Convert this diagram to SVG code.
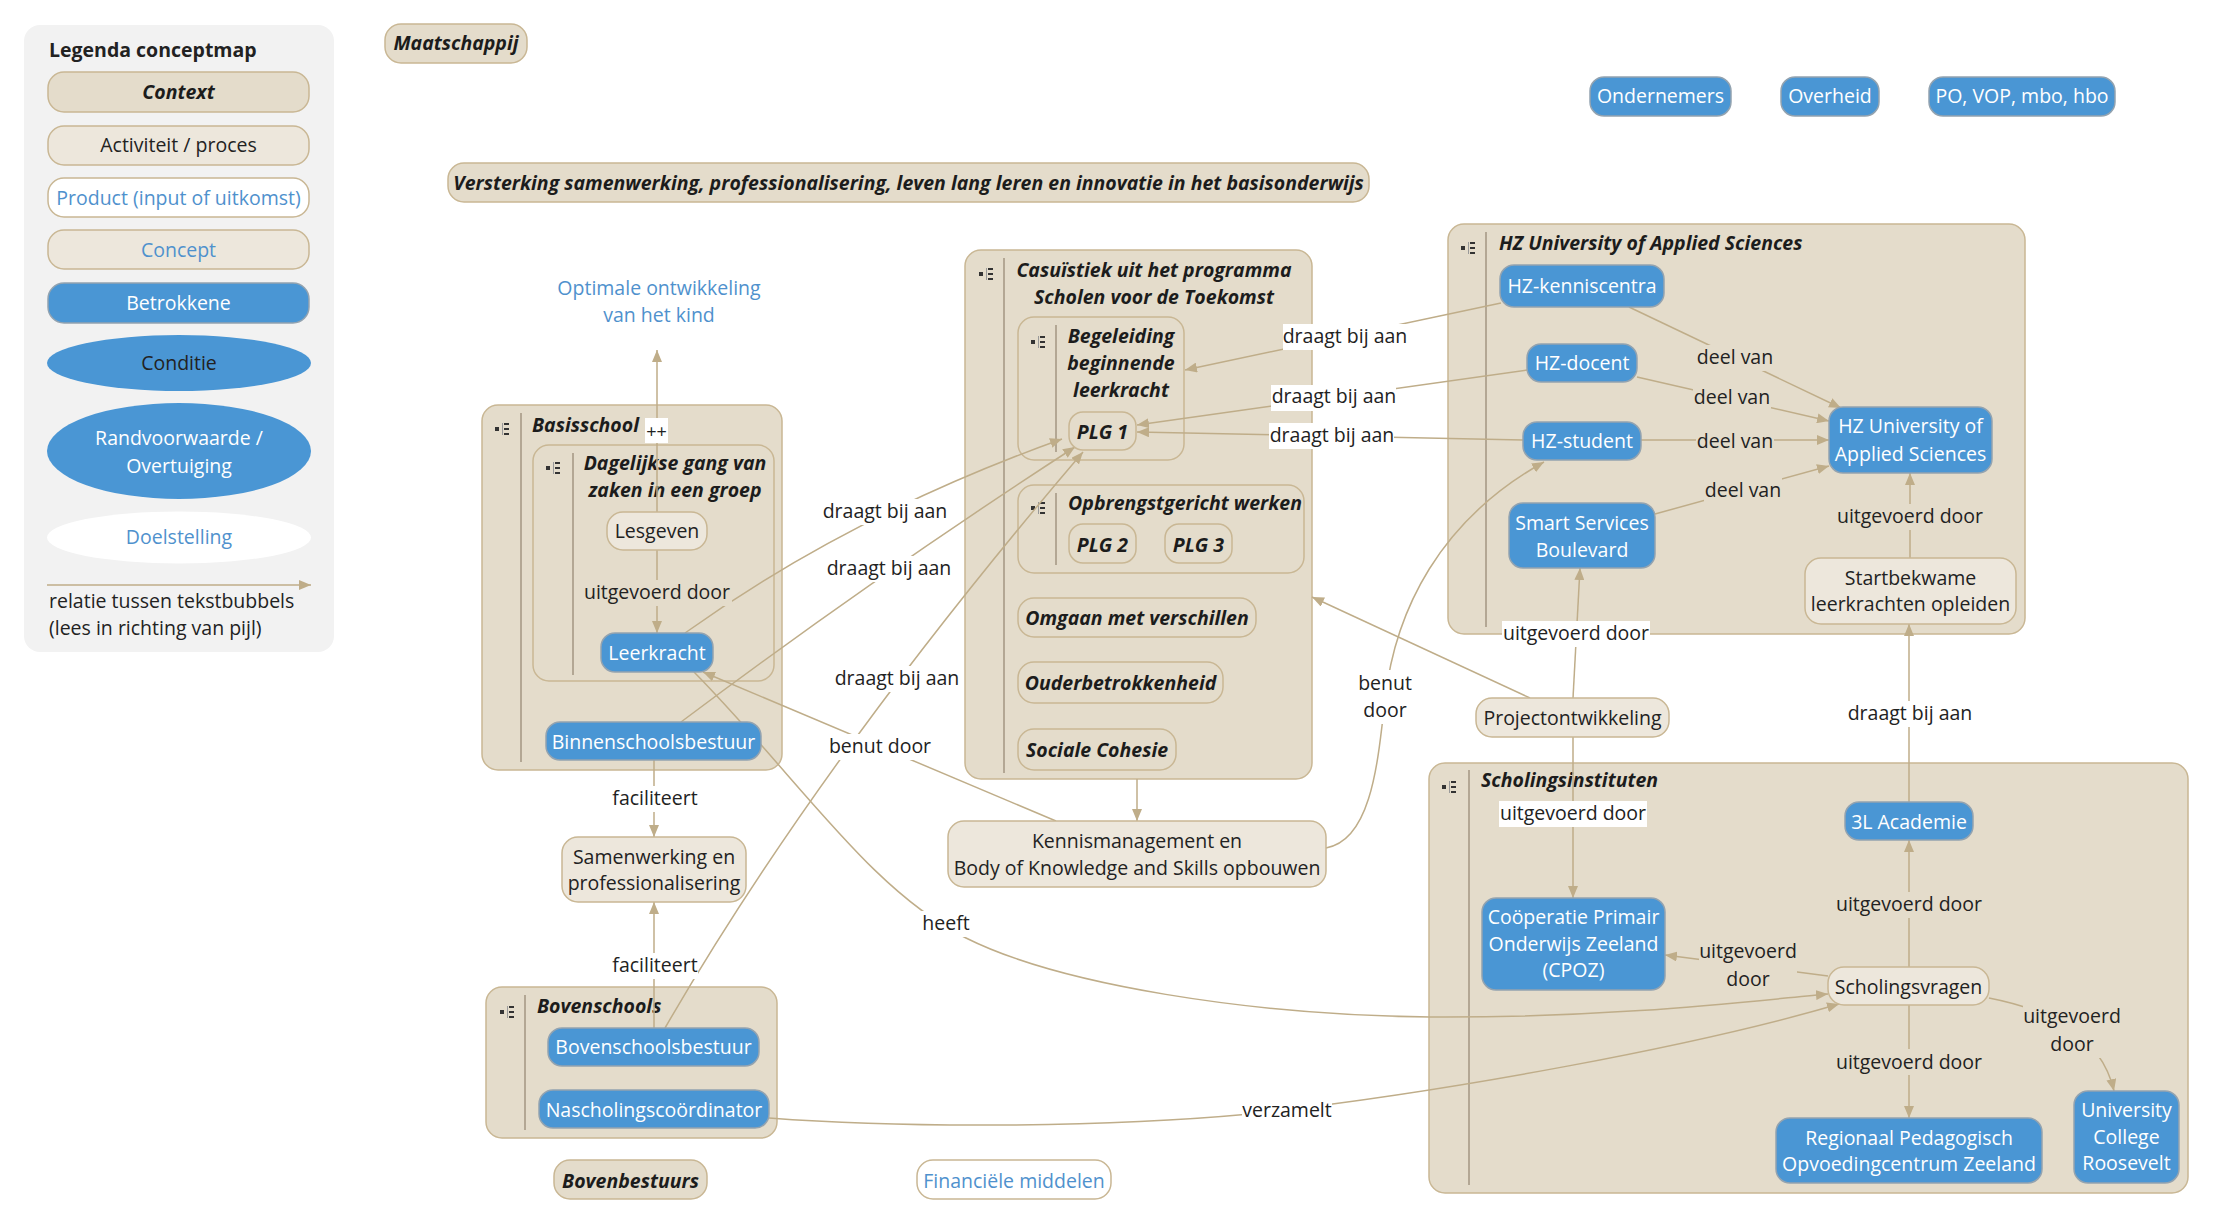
<svg xmlns="http://www.w3.org/2000/svg" width="2213" height="1225" viewBox="0 0 2213 1225">
<style>
text{font-family:"Open Sans","Liberation Sans",sans-serif;font-size:19.5px;fill:#222;text-anchor:middle}
.st{text-anchor:start}
.bi{font-weight:bold;font-style:italic;fill:#1c1c1c}
.tw{fill:#fff}
.tb{fill:#4f91cd}
.ctx{fill:#e4dccb;stroke:#c9b794;stroke-width:1.5}
.act{fill:#ede7dc;stroke:#c9b794;stroke-width:1.5}
.prod{fill:#fff;stroke:#c9b794;stroke-width:1.5}
.blue{fill:#4a96d4;stroke:#93a3b0;stroke-width:1.5}
.div{stroke:#a39682;stroke-width:1.5}
.edge{fill:none;stroke:#bfad89;stroke-width:1.5}
.arr{marker-end:url(#ah)}
.lw{fill:#fff}
.lb{fill:#e4dccb}
.ic{fill:#333}
</style>
<defs>
<marker id="ah" viewBox="0 0 12 10" refX="12" refY="5" markerWidth="12" markerHeight="10" markerUnits="userSpaceOnUse" orient="auto"><path d="M0,0 L12,5 L0,10 z" fill="#bfad89"/></marker>
<g id="icon"><rect x="0" y="-2" width="4" height="4" class="ic"/><rect x="7" y="-6" width="1" height="12" fill="#999"/><rect x="9" y="-6" width="5" height="2" class="ic"/><rect x="9" y="-1" width="5" height="2" class="ic"/><rect x="9" y="4" width="5" height="2" class="ic"/></g>
</defs>

<g id="legend">
<rect x="24" y="25" width="310" height="627" rx="16" fill="#f2f2f2"/>
<text x="49" y="57" class="st" style="font-weight:bold">Legenda conceptmap</text>
<rect x="48" y="72" width="261" height="40" rx="16" class="ctx"/><text x="178.5" y="99" class="bi">Context</text>
<rect x="48" y="126" width="261" height="39" rx="16" class="act"/><text x="178.5" y="152">Activiteit / proces</text>
<rect x="48" y="178" width="261" height="39" rx="16" class="prod"/><text x="178.5" y="205" class="tb">Product (input of uitkomst)</text>
<rect x="48" y="230" width="261" height="39" rx="16" class="act"/><text x="178.5" y="257" class="tb">Concept</text>
<rect x="48" y="283" width="261" height="40" rx="16" class="blue"/><text x="178.5" y="310" class="tw">Betrokkene</text>
<ellipse cx="179" cy="363" rx="132" ry="28" fill="#4a96d4"/><text x="179" y="370">Conditie</text>
<ellipse cx="179" cy="451" rx="132" ry="48" fill="#4a96d4"/><text x="179" y="445" class="tw">Randvoorwaarde /</text><text x="179" y="472.5" class="tw">Overtuiging</text>
<ellipse cx="179" cy="537.5" rx="132" ry="26" fill="#fff"/><text x="179" y="543.5" class="tb">Doelstelling</text>
<line x1="47" y1="585" x2="311" y2="585" class="edge arr"/>
<text x="49" y="608" class="st">relatie tussen tekstbubbels</text>
<text x="49" y="635" class="st">(lees in richting van pijl)</text>
</g>

<g id="containers">
<g id="n-basisschool"><rect x="482" y="405" width="300" height="365" rx="16" class="ctx"/><use href="#icon" x="495" y="429"/><line x1="521" y1="413" x2="521" y2="762" class="div"/><text x="532" y="432" class="st bi">Basisschool</text></g>
<g id="n-dagelijkse"><rect x="533" y="445" width="241" height="236" rx="16" class="ctx"/><use href="#icon" x="546" y="468"/><line x1="573" y1="453" x2="573" y2="675" class="div"/><text x="675" y="470" class="bi">Dagelijkse gang van</text><text x="675" y="497" class="bi">zaken in een groep</text></g>
<g id="n-bovenschools"><rect x="486" y="987" width="291" height="151" rx="16" class="ctx"/><use href="#icon" x="500" y="1012"/><line x1="525" y1="995" x2="525" y2="1130" class="div"/><text x="537" y="1013" class="st bi">Bovenschools</text></g>
<g id="n-casuistiek"><rect x="965" y="250" width="347" height="529" rx="16" class="ctx"/><use href="#icon" x="979" y="274"/><line x1="1004" y1="258" x2="1004" y2="773" class="div"/><text x="1154" y="277" class="bi">Casuïstiek uit het programma</text><text x="1154" y="303.5" class="bi">Scholen voor de Toekomst</text></g>
<g id="n-begeleiding"><rect x="1018" y="317" width="166" height="143" rx="16" class="ctx"/><use href="#icon" x="1031" y="342"/><line x1="1056" y1="325" x2="1056" y2="452" class="div"/><text x="1121" y="343" class="bi">Begeleiding</text><text x="1121" y="370" class="bi">beginnende</text><text x="1121" y="397" class="bi">leerkracht</text></g>
<g id="n-opbrengst"><rect x="1018" y="485" width="286" height="88" rx="16" class="ctx"/><use href="#icon" x="1031" y="508"/><line x1="1056" y1="493" x2="1056" y2="565" class="div"/><text x="1185" y="510" class="bi">Opbrengstgericht werken</text></g>
<g id="n-hz"><rect x="1448" y="224" width="577" height="410" rx="16" class="ctx"/><use href="#icon" x="1461" y="248"/><line x1="1486" y1="232" x2="1486" y2="627" class="div"/><text x="1499" y="250" class="st bi">HZ University of Applied Sciences</text></g>
<g id="n-scholingsinstituten"><rect x="1429" y="763" width="759" height="430" rx="16" class="ctx"/><use href="#icon" x="1442" y="787"/><line x1="1469" y1="770" x2="1469" y2="1185" class="div"/><text x="1481" y="787" class="st bi">Scholingsinstituten</text></g>
</g>

<g id="connectors">
<path d="M657,512 V350" class="edge arr"/>
<path d="M657,550 V633" class="edge arr"/>
<path d="M685,633 Q850,515 1062,439" class="edge arr"/>
<path d="M681,722 Q870,580 1075,447" class="edge arr"/>
<path d="M665,1028 Q820,760 1083,452" class="edge arr"/>
<path d="M1056,821 L703,672" class="edge arr"/>
<path d="M694,672 C800,780 870,890 966,938 C1060,985 1250,1015 1430,1017 C1620,1018 1760,1000 1828,994" class="edge arr"/>
<path d="M654,760 V837" class="edge arr"/>
<path d="M654,1028 V902" class="edge arr"/>
<path d="M769,1118 C900,1128 1100,1128 1250,1114 C1450,1092 1700,1045 1839,1004" class="edge arr"/>
<path d="M1137,779 V821" class="edge arr"/>
<path d="M1326,848 C1372,840 1378,760 1385,700 C1395,610 1440,520 1544,462" class="edge arr"/>
<path d="M1530,698 L1312,597" class="edge arr"/>
<path d="M1573,698 L1580,568" class="edge arr"/>
<path d="M1573,737 V898" class="edge arr"/>
<path d="M1501,303 L1185,370" class="edge arr"/>
<path d="M1527,370 L1137,425" class="edge arr"/>
<path d="M1523,440 L1137,432" class="edge arr"/>
<path d="M1629,307 L1841,408" class="edge arr"/>
<path d="M1637,377 L1829,421" class="edge arr"/>
<path d="M1641,440 L1829,440" class="edge arr"/>
<path d="M1655,514 L1829,466" class="edge arr"/>
<path d="M1910,558 V473" class="edge arr"/>
<path d="M1909,802 V624" class="edge arr"/>
<path d="M1909,967 V840" class="edge arr"/>
<path d="M1909,1005 V1118" class="edge arr"/>
<path d="M1828,976 L1665,955" class="edge arr"/>
<path d="M1989,998 C2040,1008 2100,1030 2114,1091" class="edge arr"/>
<g id="labels">
<rect x="645" y="418" width="23" height="25" class="lw"/><text x="656.5" y="438" style="font-size:18px">++</text>
<rect x="582" y="580" width="150" height="26" class="lb"/><text x="657" y="599">uitgevoerd door</text>
<rect x="822" y="499" width="126" height="26" class="lw"/><text x="885" y="518">draagt bij aan</text>
<rect x="826" y="556" width="126" height="26" class="lw"/><text x="889" y="575">draagt bij aan</text>
<rect x="834" y="666" width="126" height="26" class="lw"/><text x="897" y="685">draagt bij aan</text>
<rect x="830" y="734" width="100" height="26" class="lw"/><text x="880" y="753">benut door</text>
<rect x="921" y="911" width="50" height="26" class="lw"/><text x="946" y="930">heeft</text>
<rect x="612" y="786" width="86" height="26" class="lw"/><text x="655" y="805">faciliteert</text>
<rect x="612" y="953" width="86" height="26" class="lw"/><text x="655" y="972">faciliteert</text>
<rect x="1242" y="1098" width="90" height="26" class="lw"/><text x="1287" y="1117">verzamelt</text>
<rect x="1357" y="670" width="56" height="54" class="lw"/><text x="1385" y="690">benut</text><text x="1385" y="717">door</text>
<rect x="1502" y="621" width="148" height="26" class="lw"/><text x="1576" y="640">uitgevoerd door</text>
<rect x="1499" y="801" width="148" height="26" class="lw"/><text x="1573" y="820">uitgevoerd door</text>
<rect x="1283" y="324" width="125" height="26" class="lw"/><text x="1345" y="343">draagt bij aan</text>
<rect x="1271" y="385" width="125" height="26" class="lw"/><text x="1334" y="403">draagt bij aan</text>
<rect x="1269" y="423" width="125" height="26" class="lw"/><text x="1332" y="442">draagt bij aan</text>
<rect x="1696" y="345" width="78" height="26" class="lb"/><text x="1735" y="364">deel van</text>
<rect x="1693" y="385" width="78" height="26" class="lb"/><text x="1732" y="404">deel van</text>
<rect x="1696" y="429" width="78" height="26" class="lb"/><text x="1735" y="448">deel van</text>
<rect x="1704" y="478" width="78" height="26" class="lb"/><text x="1743" y="497">deel van</text>
<rect x="1836" y="504" width="148" height="26" class="lb"/><text x="1910" y="523">uitgevoerd door</text>
<rect x="1846" y="701" width="128" height="26" class="lw"/><text x="1910" y="720">draagt bij aan</text>
<rect x="1835" y="892" width="148" height="26" class="lb"/><text x="1909" y="911">uitgevoerd door</text>
<rect x="1835" y="1049" width="148" height="26" class="lb"/><text x="1909" y="1068.5">uitgevoerd door</text>
<rect x="1699" y="939" width="98" height="54" class="lb"/><text x="1748" y="958">uitgevoerd</text><text x="1748" y="986">door</text>
<rect x="2023" y="1004" width="99" height="54" class="lb"/><text x="2072" y="1023">uitgevoerd</text><text x="2072" y="1051">door</text>
</g>
</g>

<g id="nodes">
<g id="n-maatschappij"><rect x="385" y="24" width="142" height="39" rx="16" class="ctx"/><text x="456" y="50" class="bi">Maatschappij</text></g>
<g id="n-versterking"><rect x="448" y="163" width="921" height="39" rx="16" class="ctx"/><text x="908.5" y="190" class="bi">Versterking samenwerking, professionalisering, leven lang leren en innovatie in het basisonderwijs</text></g>
<g id="n-optimale"><text x="659" y="295" class="tb">Optimale ontwikkeling</text><text x="659" y="321.5" class="tb">van het kind</text></g>
<g id="n-ondernemers"><rect x="1590" y="77" width="141" height="39" rx="14" class="blue"/><text x="1660.5" y="103" class="tw">Ondernemers</text></g>
<g id="n-overheid"><rect x="1781" y="77" width="98" height="39" rx="14" class="blue"/><text x="1830" y="103" class="tw">Overheid</text></g>
<g id="n-po"><rect x="1929" y="77" width="186" height="39" rx="14" class="blue"/><text x="2022" y="103" class="tw">PO, VOP, mbo, hbo</text></g>
<g id="n-kenniscentra"><rect x="1500" y="265" width="164" height="42" rx="14" class="blue"/><text x="1582" y="293" class="tw">HZ-kenniscentra</text></g>
<g id="n-docent"><rect x="1527" y="344" width="110" height="38" rx="14" class="blue"/><text x="1582" y="370" class="tw">HZ-docent</text></g>
<g id="n-student"><rect x="1523" y="422" width="118" height="38" rx="14" class="blue"/><text x="1582" y="448" class="tw">HZ-student</text></g>
<g id="n-smart"><rect x="1509" y="503" width="146" height="65" rx="14" class="blue"/><text x="1582" y="530" class="tw">Smart Services</text><text x="1582" y="557" class="tw">Boulevard</text></g>
<g id="n-hzuniv"><rect x="1829" y="407" width="163" height="66" rx="14" class="blue"/><text x="1910.5" y="433" class="tw">HZ University of</text><text x="1910.5" y="461" class="tw">Applied Sciences</text></g>
<g id="n-startbekwame"><rect x="1805" y="558" width="211" height="66" rx="16" class="act"/><text x="1910.5" y="584.5">Startbekwame</text><text x="1910.5" y="611">leerkrachten opleiden</text></g>
<g id="n-plg1"><rect x="1069" y="412" width="67" height="38" rx="14" class="ctx"/><text x="1102.5" y="438.5" class="bi">PLG 1</text></g>
<g id="n-plg2"><rect x="1069" y="524" width="67" height="39" rx="14" class="ctx"/><text x="1102.5" y="552" class="bi">PLG 2</text></g>
<g id="n-plg3"><rect x="1165" y="524" width="67" height="39" rx="14" class="ctx"/><text x="1198.5" y="552" class="bi">PLG 3</text></g>
<g id="n-omgaan"><rect x="1018" y="598" width="238" height="39" rx="16" class="ctx"/><text x="1137" y="625" class="bi">Omgaan met verschillen</text></g>
<g id="n-ouder"><rect x="1018" y="662" width="205" height="41" rx="16" class="ctx"/><text x="1120.5" y="690" class="bi">Ouderbetrokkenheid</text></g>
<g id="n-sociale"><rect x="1018" y="729" width="158" height="41" rx="16" class="ctx"/><text x="1097" y="757" class="bi">Sociale Cohesie</text></g>
<g id="n-kennis"><rect x="948" y="821" width="378" height="66" rx="16" class="act"/><text x="1137" y="848">Kennismanagement en</text><text x="1137" y="875">Body of Knowledge and Skills opbouwen</text></g>
<g id="n-project"><rect x="1476" y="698" width="193" height="39" rx="16" class="act"/><text x="1572.5" y="725">Projectontwikkeling</text></g>
<g id="n-cpoz"><rect x="1482" y="898" width="183" height="92" rx="14" class="blue"/><text x="1573.5" y="923.5" class="tw">Coöperatie Primair</text><text x="1573.5" y="951" class="tw">Onderwijs Zeeland</text><text x="1573.5" y="977" class="tw">(CPOZ)</text></g>
<g id="n-3l"><rect x="1845" y="802" width="128" height="38" rx="14" class="blue"/><text x="1909" y="828.5" class="tw">3L Academie</text></g>
<g id="n-scholingsvragen"><rect x="1828" y="967" width="161" height="38" rx="16" class="act"/><text x="1908.5" y="993.5">Scholingsvragen</text></g>
<g id="n-rpcz"><rect x="1776" y="1118" width="266" height="65" rx="14" class="blue"/><text x="1909" y="1144.5" class="tw">Regionaal Pedagogisch</text><text x="1909" y="1171" class="tw">Opvoedingcentrum Zeeland</text></g>
<g id="n-ucr"><rect x="2074" y="1091" width="105" height="92" rx="14" class="blue"/><text x="2126.5" y="1117" class="tw">University</text><text x="2126.5" y="1143.5" class="tw">College</text><text x="2126.5" y="1170" class="tw">Roosevelt</text></g>
<g id="n-lesgeven"><rect x="607" y="512" width="100" height="38" rx="16" class="act"/><text x="657" y="538">Lesgeven</text></g>
<g id="n-leerkracht"><rect x="601" y="633" width="112" height="39" rx="14" class="blue"/><text x="657" y="660" class="tw">Leerkracht</text></g>
<g id="n-binnenschools"><rect x="546" y="722" width="215" height="38" rx="14" class="blue"/><text x="653.5" y="748.5" class="tw">Binnenschoolsbestuur</text></g>
<g id="n-samenwerking"><rect x="562" y="837" width="184" height="65" rx="16" class="act"/><text x="654" y="863.5">Samenwerking en</text><text x="654" y="890">professionalisering</text></g>
<g id="n-bovenschoolsbestuur"><rect x="548" y="1028" width="211" height="38" rx="14" class="blue"/><text x="653.5" y="1053.5" class="tw">Bovenschoolsbestuur</text></g>
<g id="n-nascholing"><rect x="539" y="1090" width="230" height="38" rx="14" class="blue"/><text x="654" y="1117" class="tw">Nascholingscoördinator</text></g>
<g id="n-bovenbestuurs"><rect x="554" y="1160" width="153" height="39" rx="16" class="ctx"/><text x="630.5" y="1188" class="bi">Bovenbestuurs</text></g>
<g id="n-financieel"><rect x="917" y="1160" width="194" height="39" rx="16" class="prod"/><text x="1014" y="1188" class="tb">Financiële middelen</text></g>
</g>
</svg>
